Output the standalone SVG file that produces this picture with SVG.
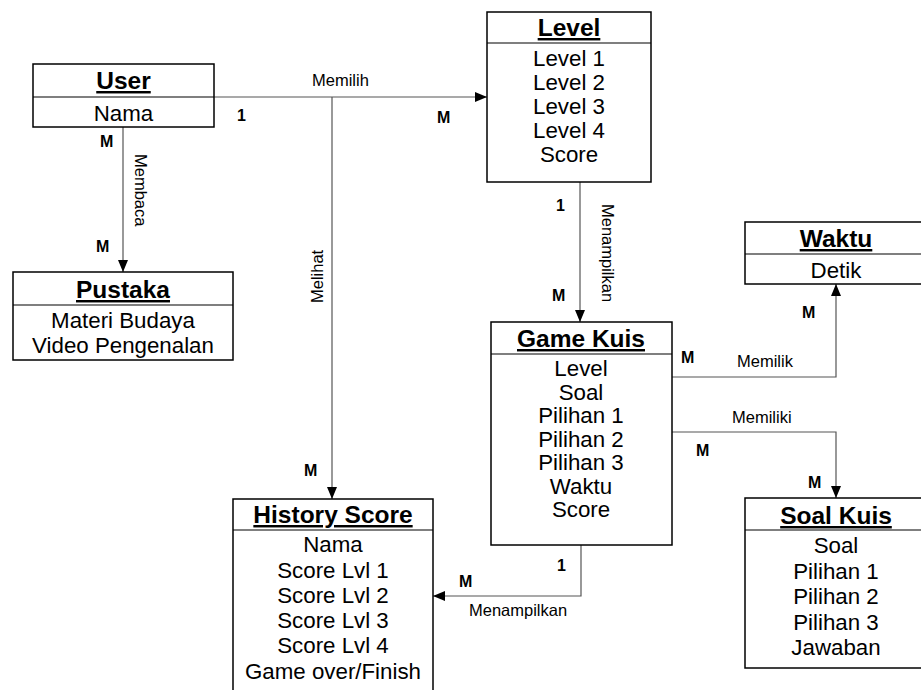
<svg xmlns="http://www.w3.org/2000/svg" width="921" height="690" viewBox="0 0 921 690">
  <style>
    .box { fill: #ffffff; stroke: #000000; stroke-width: 1.5; }
    .div { stroke: #000000; stroke-width: 1.2; }
    .title { font-family: "Liberation Sans", Arial, sans-serif; font-size: 24.5px; font-weight: bold; text-decoration: underline; text-anchor: middle; fill: #000; }
    .attr { font-family: "Liberation Sans", Arial, sans-serif; font-size: 22.3px; text-anchor: middle; fill: #000; }
    .rel { font-family: "Liberation Sans", Arial, sans-serif; font-size: 16.5px; fill: #000; }
    .card { font-family: "Liberation Sans", Arial, sans-serif; font-size: 16px; font-weight: bold; fill: #000; }
    .link { fill: none; stroke: #555555; stroke-width: 1.2; marker-end: url(#arrow); }
  </style>
  <defs>
    <marker id="arrow" viewBox="0 0 12 10" refX="12" refY="5" markerWidth="12" markerHeight="10" markerUnits="userSpaceOnUse" orient="auto">
      <path d="M0,0 L12,5 L0,10 Z" fill="#000000"/>
    </marker>
  </defs>

  <rect width="921" height="690" fill="#ffffff"/>

  <!-- connectors -->
  <g id="connectors">
    <path class="link" d="M214,97 H487"/>
    <path class="link" d="M332,97 V499"/>
    <path class="link" d="M123,127 V272"/>
    <path class="link" d="M580,182 V322"/>
    <path class="link" d="M672,377 H836 V284"/>
    <path class="link" d="M672,432 H836 V498"/>
    <path class="link" d="M581,545 V596 H433"/>

    <text class="rel" x="312" y="86">Memilih</text>
    <text class="rel" transform="translate(323 303) rotate(-90)">Melihat</text>
    <text class="rel" transform="translate(135 154) rotate(90)">Membaca</text>
    <text class="rel" transform="translate(602 204) rotate(90)">Menampilkan</text>
    <text class="rel" x="737" y="367">Memilik</text>
    <text class="rel" x="732" y="423">Memiliki</text>
    <text class="rel" x="469" y="616">Menampilkan</text>

    <text class="card" x="237" y="121">1</text>
    <text class="card" x="437" y="123">M</text>
    <text class="card" x="100" y="147">M</text>
    <text class="card" x="96" y="252">M</text>
    <text class="card" x="556" y="211">1</text>
    <text class="card" x="552" y="301">M</text>
    <text class="card" x="681" y="363">M</text>
    <text class="card" x="802" y="318">M</text>
    <text class="card" x="696" y="456">M</text>
    <text class="card" x="808" y="488">M</text>
    <text class="card" x="557" y="571">1</text>
    <text class="card" x="459" y="587">M</text>
    <text class="card" x="304" y="476">M</text>
  </g>

  <!-- entities -->
  <g id="user">
    <rect class="box" x="33" y="64" width="181" height="63"/>
    <line class="div" x1="33" y1="97" x2="214" y2="97"/>
    <text class="title" x="123.5" y="89">User</text>
    <text class="attr" x="123.5" y="121">Nama</text>
  </g>

  <g id="level">
    <rect class="box" x="487" y="12" width="164" height="170"/>
    <line class="div" x1="487" y1="43" x2="651" y2="43"/>
    <text class="title" x="569" y="36">Level</text>
    <text class="attr" x="569" y="66">Level 1</text>
    <text class="attr" x="569" y="90">Level 2</text>
    <text class="attr" x="569" y="114">Level 3</text>
    <text class="attr" x="569" y="138">Level 4</text>
    <text class="attr" x="569" y="162">Score</text>
  </g>

  <g id="pustaka">
    <rect class="box" x="13" y="272" width="220" height="88"/>
    <line class="div" x1="13" y1="305" x2="233" y2="305"/>
    <text class="title" x="123" y="298">Pustaka</text>
    <text class="attr" x="123" y="328">Materi Budaya</text>
    <text class="attr" x="123" y="353">Video Pengenalan</text>
  </g>

  <g id="waktu">
    <rect class="box" x="745" y="222" width="182" height="62"/>
    <line class="div" x1="745" y1="254" x2="927" y2="254"/>
    <text class="title" x="836" y="247">Waktu</text>
    <text class="attr" x="836" y="278">Detik</text>
  </g>

  <g id="game-kuis">
    <rect class="box" x="491" y="322" width="181" height="223"/>
    <line class="div" x1="491" y1="354" x2="672" y2="354"/>
    <text class="title" x="581" y="347">Game Kuis</text>
    <text class="attr" x="581" y="376">Level</text>
    <text class="attr" x="581" y="399.5">Soal</text>
    <text class="attr" x="581" y="423">Pilihan 1</text>
    <text class="attr" x="581" y="446.5">Pilihan 2</text>
    <text class="attr" x="581" y="470">Pilihan 3</text>
    <text class="attr" x="581" y="493.5">Waktu</text>
    <text class="attr" x="581" y="517">Score</text>
  </g>

  <g id="soal-kuis">
    <rect class="box" x="745" y="498" width="182" height="170"/>
    <line class="div" x1="745" y1="530" x2="927" y2="530"/>
    <text class="title" x="836" y="524">Soal Kuis</text>
    <text class="attr" x="836" y="553">Soal</text>
    <text class="attr" x="836" y="578.5">Pilihan 1</text>
    <text class="attr" x="836" y="604">Pilihan 2</text>
    <text class="attr" x="836" y="629.5">Pilihan 3</text>
    <text class="attr" x="836" y="655">Jawaban</text>
  </g>

  <g id="history-score">
    <rect class="box" x="233" y="499" width="200" height="200"/>
    <line class="div" x1="233" y1="530" x2="433" y2="530"/>
    <text class="title" x="333" y="523">History Score</text>
    <text class="attr" x="333" y="552">Nama</text>
    <text class="attr" x="333" y="578">Score Lvl 1</text>
    <text class="attr" x="333" y="603">Score Lvl 2</text>
    <text class="attr" x="333" y="628">Score Lvl 3</text>
    <text class="attr" x="333" y="653">Score Lvl 4</text>
    <text class="attr" x="333" y="679">Game over/Finish</text>
  </g>
</svg>
